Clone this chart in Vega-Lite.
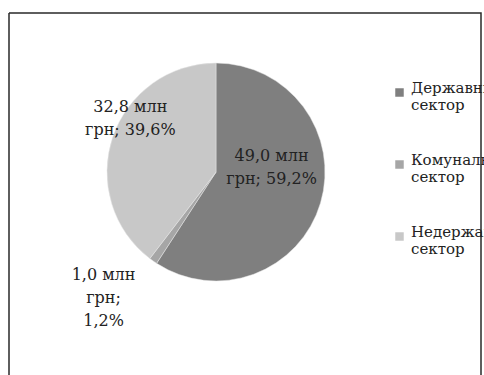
{
  "$schema": "https://vega.github.io/schema/vega-lite/v6.json",
  "width": 472,
  "height": 362,
  "autosize": "none",
  "padding": {"left": 9, "top": 13, "right": 3, "bottom": 0},
  "background": "white",
  "config": {
    "view": {"stroke": null},
    "font": "DejaVu Serif"
  },
  "data": {
    "values": [
      {"sector": "Державний сектор", "value": 49.0, "label": "49,0 млн\nгрн; 59,2%"},
      {"sector": "Комунальний сектор", "value": 1.0, "label": "1,0 млн\nгрн;\n1,2%"},
      {"sector": "Недержавний сектор", "value": 32.8, "label": "32,8 млн\nгрн; 39,6%"}
    ]
  },
  "layer": [
    {
      "transform": [{"filter": "datum.sector === 'Державний сектор'"}],
      "mark": {"type": "rect", "fill": null, "stroke": "#2a2a2a", "strokeWidth": 1.5, "strokeDash": [834, 472, 362, 0]},
      "encoding": {}
    },
    {
      "mark": {"type": "arc", "outerRadius": 109, "xOffset": -29, "yOffset": -22, "stroke": "#e6e6e6", "strokeWidth": 0.5},
      "encoding": {
        "theta": {"field": "value", "type": "quantitative", "stack": true},
        "order": {"field": "sector", "type": "nominal", "sort": "ascending"},
        "color": {
          "field": "sector",
          "type": "nominal",
          "scale": {
            "domain": ["Державний сектор", "Комунальний сектор", "Недержавний сектор"],
            "range": ["#7f7f7f", "#a6a6a6", "#c8c8c8"]
          },
          "legend": {
            "orient": "none",
            "legendX": 383,
            "legendY": 72,
            "title": null,
            "symbolType": "square",
            "symbolSize": 72,
            "symbolStrokeWidth": 0,
            "labelFont": "DejaVu Serif",
            "labelFontSize": 15,
            "labelColor": "#222222",
            "labelLineHeight": 19,
            "labelBaseline": "alphabetic",
            "labelExpr": "split(datum.label, ' ')",
            "labelOffset": 4,
            "labelLimit": 300,
            "rowPadding": 39,
            "padding": 0
          }
        }
      }
    },
    {
      "mark": {"type": "text", "radius": 58, "xOffset": -29, "yOffset": -54, "font": "DejaVu Serif", "fontSize": 16, "lineHeight": 23, "lineBreak": "\n", "align": "center", "baseline": "middle", "color": "#222222"},
      "encoding": {
        "theta": {"field": "value", "type": "quantitative", "stack": true},
        "order": {"field": "sector", "type": "nominal", "sort": "ascending"},
        "detail": {"field": "sector", "type": "nominal"},
        "text": {"condition": {"test": "datum.sector === 'Державний сектор'", "field": "label"}, "value": ""}
      }
    },
    {
      "mark": {"type": "text", "radius": 101, "xOffset": -19, "yOffset": -55, "font": "DejaVu Serif", "fontSize": 16, "lineHeight": 23, "lineBreak": "\n", "align": "center", "baseline": "middle", "color": "#222222"},
      "encoding": {
        "theta": {"field": "value", "type": "quantitative", "stack": true},
        "order": {"field": "sector", "type": "nominal", "sort": "ascending"},
        "detail": {"field": "sector", "type": "nominal"},
        "text": {"condition": {"test": "datum.sector === 'Недержавний сектор'", "field": "label"}, "value": ""}
      }
    },
    {
      "mark": {"type": "text", "radius": 169, "xOffset": -44, "yOffset": -57, "font": "DejaVu Serif", "fontSize": 16, "lineHeight": 23, "lineBreak": "\n", "align": "center", "baseline": "middle", "color": "#222222"},
      "encoding": {
        "theta": {"field": "value", "type": "quantitative", "stack": true},
        "order": {"field": "sector", "type": "nominal", "sort": "ascending"},
        "detail": {"field": "sector", "type": "nominal"},
        "text": {"condition": {"test": "datum.sector === 'Комунальний сектор'", "field": "label"}, "value": ""}
      }
    }
  ]
}
